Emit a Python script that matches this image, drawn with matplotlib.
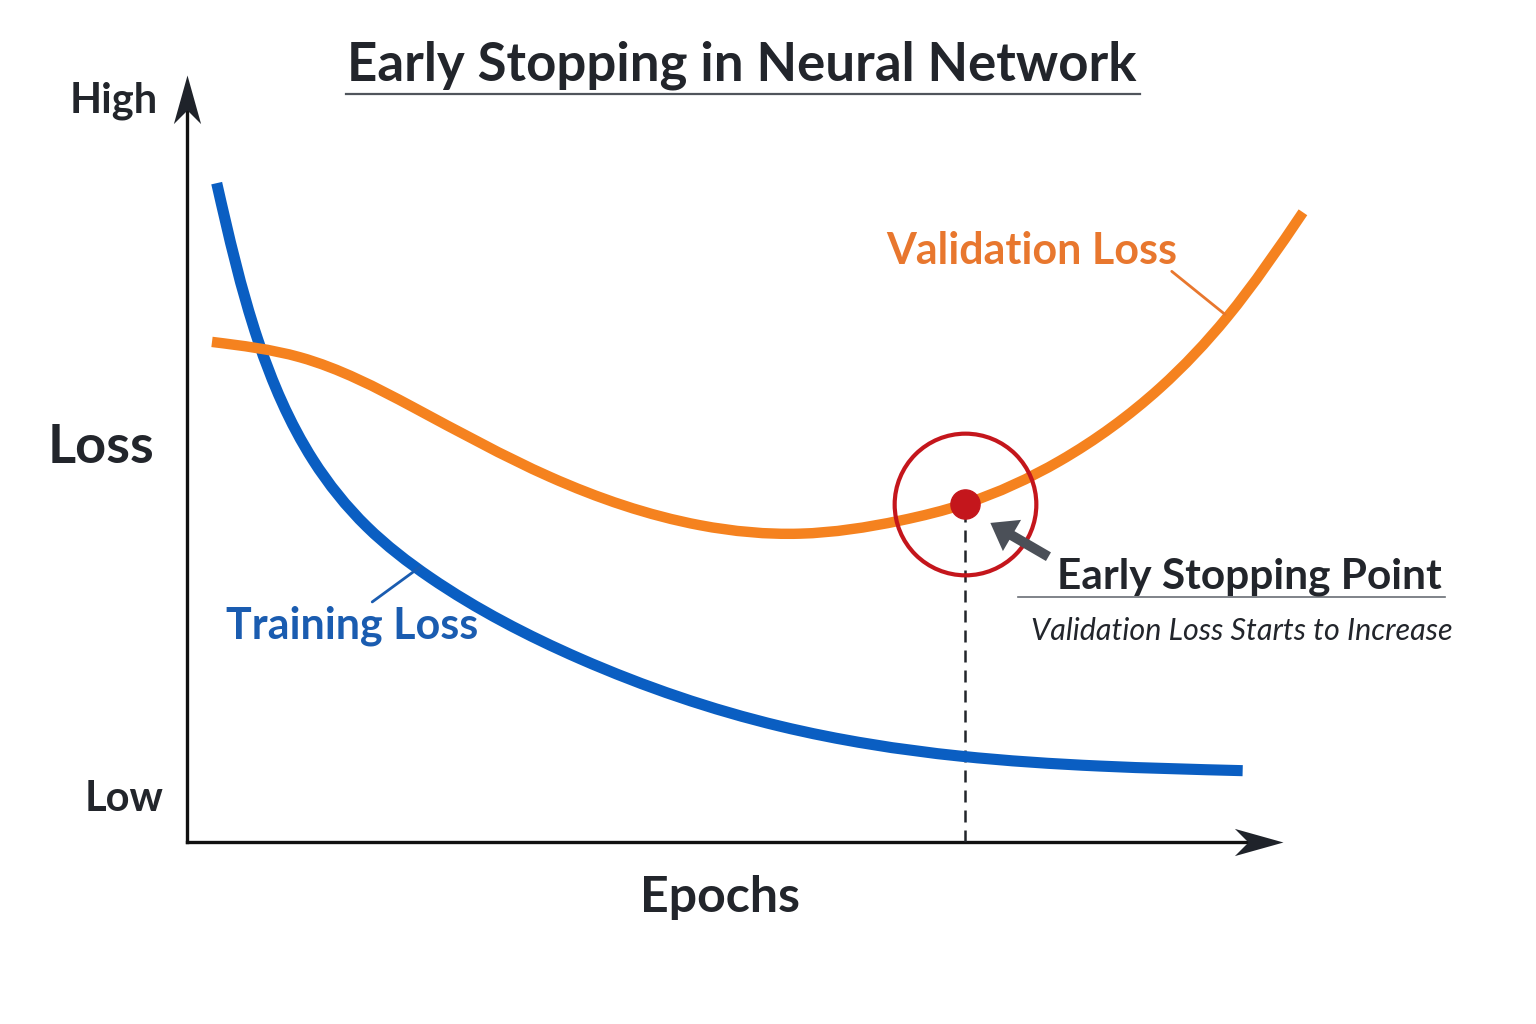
"""
Early stopping illustration: training vs. validation loss over epochs.
"""
import numpy as np
import matplotlib
matplotlib.use("Agg")
import matplotlib.pyplot as plt
from matplotlib.lines import Line2D
from matplotlib.path import Path
from matplotlib.patches import PathPatch

# ---------------------------------------------------------------------------
# data (epochs 0..100, loss 0..1)
# ---------------------------------------------------------------------------
train_epochs = [2.71, 6.48, 11.50, 16.42, 22.17, 35.86, 54.11, 70.53, 83.30, 96.32]
train_loss = [0.859, 0.654, 0.498, 0.411, 0.345, 0.239, 0.151, 0.112, 0.099, 0.093]

val_epochs = [2.28, 10.31, 20.62, 33.12, 46.81, 55.93, 65.05, 70.99, 79.65,
              88.78, 94.89, 101.82]
val_loss = [0.652, 0.632, 0.567, 0.476, 0.413, 0.402, 0.419, 0.441, 0.497,
            0.592, 0.684, 0.821]

stop_epoch = 71.0
stop_loss = 0.441

TITLE = "Early Stopping in Neural Network"
Y_HIGH, Y_LOW, Y_LABEL, X_LABEL = "High", "Low", "Loss", "Epochs"
TRAIN_LABEL = "Training Loss"
VAL_LABEL = "Validation Loss"
STOP_LABEL = "Early Stopping Point"
STOP_NOTE = "Validation Loss Starts to Increase"

# ---------------------------------------------------------------------------
# style
# ---------------------------------------------------------------------------
W, H = 1536, 1024
DARK = "#22252b"
AXIS = "#111111"
BLUE = "#0a5ec2"
BLUE_TXT = "#1a5cb0"
ORANGE = "#f5821f"
ORANGE_TXT = "#e8772e"
RED = "#c4161c"
GREY = "#4b5058"

plt.rcParams["font.family"] = ["Lato", "DejaVu Sans"]


def fx(px):
    return px / W


def fy(py):
    return 1 - py / H


def smooth_path(ax, xs, ys):
    """Natural cubic spline through the points, as a Bezier path (chord-length param)."""
    pts = np.column_stack([xs, ys]).astype(float)
    disp = ax.transData.transform(pts)
    h = np.hypot(*np.diff(disp, axis=0).T)
    n = len(pts)
    # second derivatives, natural end conditions
    A = np.zeros((n, n))
    rhs = np.zeros((n, 2))
    A[0, 0] = A[-1, -1] = 1
    for i in range(1, n - 1):
        A[i, i - 1] = h[i - 1]
        A[i, i] = 2 * (h[i - 1] + h[i])
        A[i, i + 1] = h[i]
        rhs[i] = 6 * ((pts[i + 1] - pts[i]) / h[i] - (pts[i] - pts[i - 1]) / h[i - 1])
    M = np.linalg.solve(A, rhs)
    verts, codes = [pts[0]], [Path.MOVETO]
    for i in range(n - 1):
        slope = (pts[i + 1] - pts[i]) / h[i]
        d0 = slope - h[i] * (2 * M[i] + M[i + 1]) / 6
        d1 = slope + h[i] * (M[i] + 2 * M[i + 1]) / 6
        verts += [pts[i] + d0 * h[i] / 3, pts[i + 1] - d1 * h[i] / 3, pts[i + 1]]
        codes += [Path.CURVE4] * 3
    return Path(verts, codes)


# concave ("stealth") arrow heads with the tip at the marker origin
HEAD_RIGHT = Path([(0, 0), (-1, 0.28), (-0.72, 0), (-1, -0.28), (0, 0)],
                  [Path.MOVETO] + [Path.LINETO] * 3 + [Path.CLOSEPOLY])
HEAD_UP = Path([(0, 0), (0.28, -1), (0, -0.72), (-0.28, -1), (0, 0)],
               [Path.MOVETO] + [Path.LINETO] * 3 + [Path.CLOSEPOLY])

fig = plt.figure(figsize=(W / 100, H / 100), dpi=100)
fig.patch.set_facecolor("white")

# axes frame: origin at (187, 842) px, arrow tips at x=1283 / y=75 px
ax = fig.add_axes([fx(187), fy(842), fx(1283) - fx(187), fy(75) - fy(842)])
ax.set_xlim(0, 100)
ax.set_ylim(0, 1)
ax.axis("off")

# axis lines + arrow heads
ax.plot([0, 0.97], [0, 0], transform=ax.transAxes, color=AXIS, lw=2.4,
        solid_capstyle="projecting", clip_on=False)
ax.plot([0, 0], [0, 0.97], transform=ax.transAxes, color=AXIS, lw=2.4,
        solid_capstyle="projecting", clip_on=False)
ax.plot(1, 0, marker=HEAD_RIGHT, ms=70, mew=0, color="#1f232a",
        transform=ax.transAxes, clip_on=False)
ax.plot(0, 1, marker=HEAD_UP, ms=70, mew=0, color="#1f232a",
        transform=ax.transAxes, clip_on=False)

# curves
for xs, ys, col, lw in [(train_epochs, train_loss, BLUE, 8),
                        (val_epochs, val_loss, ORANGE, 7.5)]:
    ax.add_patch(PathPatch(smooth_path(ax, xs, ys), fill=False, edgecolor=col,
                           lw=lw, capstyle="butt", joinstyle="round",
                           clip_on=False, zorder=3))

# early stopping marker
ax.plot([stop_epoch, stop_epoch], [0, stop_loss], color=DARK, lw=1.8,
        dashes=(4.8, 3.2), zorder=2)
ax.plot(stop_epoch, stop_loss, "o", ms=102, mfc="none", mec=RED, mew=3,
        zorder=4, clip_on=False)
ax.plot(stop_epoch, stop_loss, "o", ms=21, color=RED, zorder=5)

# pointer arrow to the stop point
ax.annotate("", xy=(73.3, 0.416), xytext=(78.6, 0.372),
            arrowprops=dict(arrowstyle="simple,head_length=0.9,head_width=1.3,tail_width=0.36",
                            mutation_scale=20, color=GREY, lw=0,
                            shrinkA=0, shrinkB=0), zorder=6)

# leader lines for curve labels
ax.annotate("", xy=(94.7, 0.688), xytext=(89.85, 0.744),
            arrowprops=dict(arrowstyle="-", color=ORANGE_TXT, lw=2,
                            shrinkA=0, shrinkB=0))
ax.annotate("", xy=(21.3, 0.359), xytext=(16.9, 0.313),
            arrowprops=dict(arrowstyle="-", color=BLUE_TXT, lw=2,
                            shrinkA=0, shrinkB=0))

# ---------------------------------------------------------------------------
# text
# ---------------------------------------------------------------------------
fig.text(fx(742), fy(80), TITLE, ha="center", va="baseline", fontsize=38,
         fontweight="bold", color=DARK)
fig.add_artist(Line2D([fx(346), fx(1140)], [fy(94), fy(94)], color="#50555c", lw=1.6))

fig.text(fx(158), fy(112), Y_HIGH, ha="right", va="baseline", fontsize=30,
         fontweight="bold", color=DARK)
fig.text(fx(164), fy(811), Y_LOW, ha="right", va="baseline", fontsize=30,
         fontweight="bold", color=DARK)
fig.text(fx(48), fy(463), Y_LABEL, ha="left", va="baseline", fontsize=39,
         fontweight="bold", color=DARK)
fig.text(fx(720), fy(912), X_LABEL, ha="center", va="baseline", fontsize=36,
         fontweight="bold", color=DARK)

fig.text(fx(886), fy(264), VAL_LABEL, ha="left", va="baseline", fontsize=31,
         fontweight="bold", color=ORANGE_TXT)
fig.text(fx(226), fy(639), TRAIN_LABEL, ha="left", va="baseline", fontsize=31,
         fontweight="bold", color=BLUE_TXT)

fig.text(fx(1057), fy(588), STOP_LABEL, ha="left", va="baseline", fontsize=30.5,
         fontweight="bold", color=DARK)
fig.add_artist(Line2D([fx(1018), fx(1445)], [fy(597), fy(597)], color="#6a6e75", lw=1.2))
fig.text(fx(1031), fy(640), STOP_NOTE, ha="left", va="baseline", fontsize=22,
         fontweight="normal", fontstyle="italic", color=DARK)

fig.savefig("out.png", dpi=100, facecolor="white")
